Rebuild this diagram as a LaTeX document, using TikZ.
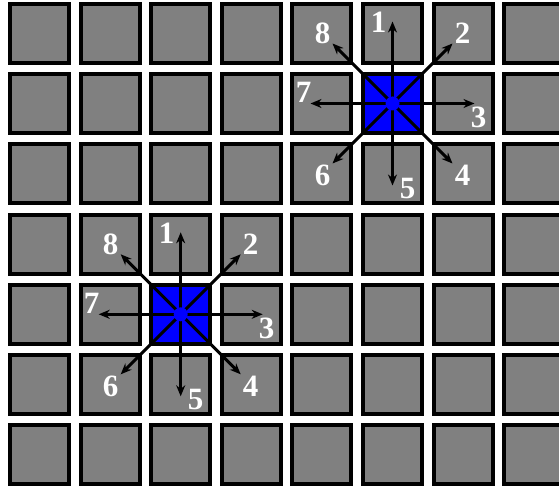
\documentclass[tikz,border=0pt]{standalone}
\usepackage{fontspec}
\setmainfont{Liberation Serif}
\usetikzlibrary{arrows.meta}
\tikzset{
  cell/.style={draw=black, line width=4pt, fill=gray50},
  hot/.style={draw=black, line width=4pt, fill=blue},
  dir/.style={draw=black, line width=3pt, -{Stealth[length=11pt,width=9pt]}},
  num/.style={text=white, font=\fontsize{31}{31}\selectfont\bfseries, inner sep=0pt},
  dot/.style={circle, fill=blue, inner sep=0pt, minimum size=14pt}
}
\definecolor{gray50}{HTML}{808080}
\begin{document}
\begin{tikzpicture}[x=1pt,y=-1pt]
\useasboundingbox (0,0) rectangle (559,489);
\clip (0,0) rectangle (559,489);
\fill[white] (0,0) rectangle (559,489);
% grid
\foreach \i in {0,...,7}{
  \foreach \j in {0,...,6}{
    \pgfmathsetmacro{\xa}{8+\i*70.6+2}
    \pgfmathsetmacro{\ya}{2+\j*70.2+2}
    \draw[cell] (\xa,\ya) rectangle ++(59,59);
  }
}
% blue cells
\draw[hot] (8+5*70.6+2, 2+1*70.2+2) rectangle ++(59,59);
\draw[hot] (8+2*70.6+2, 2+4*70.2+2) rectangle ++(59,59);
% clusters
\foreach \cx/\cy/\nm in {392.5/103.5/a, 180.7/314.3/b}{
  \begin{scope}[shift={(\cx,\cy)}]
    \coordinate (\nm c) at (0,0);
    \coordinate (\nm 1) at (0,-82);
    \coordinate (\nm 2) at (60,-60);
    \coordinate (\nm 3) at (82,0);
    \coordinate (\nm 4) at (60,60);
    \coordinate (\nm 5) at (0,82);
    \coordinate (\nm 6) at (-60,60);
    \coordinate (\nm 7) at (-82,0);
    \coordinate (\nm 8) at (-60,-60);
    \foreach \k in {1,...,8}{ \draw[dir] (\nm c) -- (\nm \k); }
    \node[dot] (\nm d) at (\nm c) {};
    \node[num] (\nm l1) at (-14,-81) {1};
    \node[num] (\nm l2) at (70,-70) {2};
    \node[num] (\nm l3) at (86,14) {3};
    \node[num] (\nm l4) at (70,72) {4};
    \node[num] (\nm l5) at (15,85) {5};
    \node[num] (\nm l6) at (-70,72) {6};
    \node[num] (\nm l7) at (-89,-11) {7};
    \node[num] (\nm l8) at (-70,-70) {8};
  \end{scope}
}
\end{tikzpicture}
\end{document}
